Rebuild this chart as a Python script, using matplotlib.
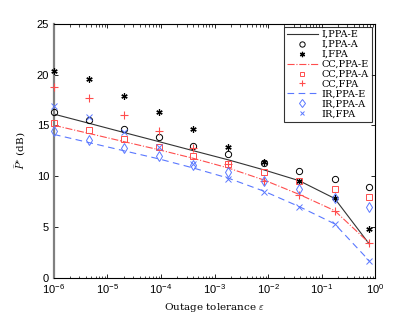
import matplotlib
matplotlib.use("Agg")
import matplotlib.pyplot as plt
import numpy as np
from matplotlib.ticker import FixedLocator, NullFormatter, LogFormatterSciNotation

plt.rcParams['mathtext.fontset'] = 'cm'

eps = [1e-6, 4.5e-6, 2e-5, 9e-5, 4e-4, 1.8e-3, 8.5e-3, 3.8e-2, 1.75e-1, 7.8e-1]
x_ticks = [1e-6, 1e-5, 1e-4, 1e-3, 1e-2, 1e-1, 1e0]
y_ticks = [0, 5, 10, 15, 20, 25]

I_PPA_E = [16.1, 15.2, 14.3, 13.4, 12.5, 11.6, 10.6, 9.55, 7.8, 3.3]
I_PPA_A = [16.3, 15.5, 14.65, 13.85, 13.0, 12.15, 11.3, 10.5, 9.7, 8.9]
I_FPA = [20.35, 19.6, 17.9, 16.3, 14.6, 12.9, 11.4, 9.55, 7.8, 4.8]
CC_PPA_E = [15.0, 14.2, 13.4, 12.6, 11.75, 10.8, 9.6, 8.2, 6.6, 3.4]
CC_PPA_A = [15.25, 14.5, 13.7, 12.85, 12.0, 11.2, 10.4, 9.55, 8.7, 7.9]
CC_FPA = [18.8, 17.65, 16.0, 14.4, 12.8, 11.2, 9.5, 8.15, 6.6, 3.4]
IR_PPA_E = [14.1, 13.3, 12.5, 11.7, 10.8, 9.8, 8.5, 7.0, 5.3, 1.65]
IR_PPA_A = [14.4, 13.6, 12.8, 12.0, 11.1, 10.4, 9.5, 8.7, 7.8, 7.0]
IR_FPA = [16.9, 15.85, 14.3, 12.85, 11.2, 9.7, 8.4, 7.0, 5.3, 1.65]

red = '#ff4d4d'
blue = '#5a78ff'

fig = plt.figure(figsize=(4.15, 3.12), dpi=100)
ax = fig.add_axes([0.130, 0.110, 0.774, 0.814])

mk = dict(ls='none', clip_on=False, zorder=3)
ax.plot(eps, I_PPA_E, '-', color='#333333', lw=0.8, label='I,PPA-E')
ax.plot(eps, I_PPA_A, marker='o', mfc='none', mec='black', ms=4.5, mew=0.7, label='I,PPA-A', **mk)
ax.plot(eps, I_FPA, marker=(6, 2, 0), color='black', ms=4.5, mew=0.9, label='I,FPA', **mk)
ax.plot(eps, CC_PPA_E, '-.', color=red, lw=0.8, label='CC,PPA-E')
ax.plot(eps, CC_PPA_A, marker='s', mfc='none', mec=red, ms=4, mew=0.7, label='CC,PPA-A', **mk)
ax.plot(eps, CC_FPA, marker='+', color=red, ms=5.5, mew=0.8, label='CC,FPA', **mk)
ax.plot(eps, IR_PPA_E, '--', color=blue, lw=0.8, dashes=(6, 4), label='IR,PPA-E')
ax.plot(eps, IR_PPA_A, marker='d', mfc='none', mec=blue, ms=5, mew=0.7, label='IR,PPA-A', **mk)
ax.plot(eps, IR_FPA, marker='x', color=blue, ms=3.8, mew=0.7, label='IR,FPA', **mk)

ax.set_xscale('log')
ax.set_xlim(1e-6, 1)
ax.set_ylim(0, 25)
ax.set_yticks(y_ticks)
ax.xaxis.set_major_locator(FixedLocator(x_ticks))
ax.xaxis.set_major_formatter(LogFormatterSciNotation())
minor = [m * d for d in x_ticks[:-1] for m in range(2, 10)]
ax.xaxis.set_minor_locator(FixedLocator(minor))
ax.xaxis.set_minor_formatter(NullFormatter())

ax.tick_params(which='both', direction='in', top=True, right=True, labelsize=8)
ax.tick_params(which='major', length=3, width=0.6)
ax.tick_params(which='minor', length=1.8, width=0.5)
for lbl in ax.get_xticklabels() + ax.get_yticklabels():
    lbl.set_family('Liberation Sans')
for s in ['top', 'right', 'bottom']:
    ax.spines[s].set_linewidth(0.8)
ax.spines['left'].set_color('#808080')
ax.spines['left'].set_linewidth(1.6)

ax.set_xlabel(r'Outage tolerance $\varepsilon$', family='DejaVu Serif', fontsize=7.5, labelpad=3)
ax.set_ylabel(r'$\bar{P}^{*}$ (dB)', family='DejaVu Serif', fontsize=7.5, labelpad=6)

leg = ax.legend(loc='upper right', fontsize=7, frameon=True, fancybox=False,
                edgecolor='black', borderpad=0.3, labelspacing=0.1,
                handlelength=3.2, handletextpad=0.4, borderaxespad=0.35,
                markerscale=0.85,
                prop={'family': 'DejaVu Serif', 'size': 7})
leg.get_frame().set_linewidth(0.8)

fig.savefig('out.png', dpi=100)
